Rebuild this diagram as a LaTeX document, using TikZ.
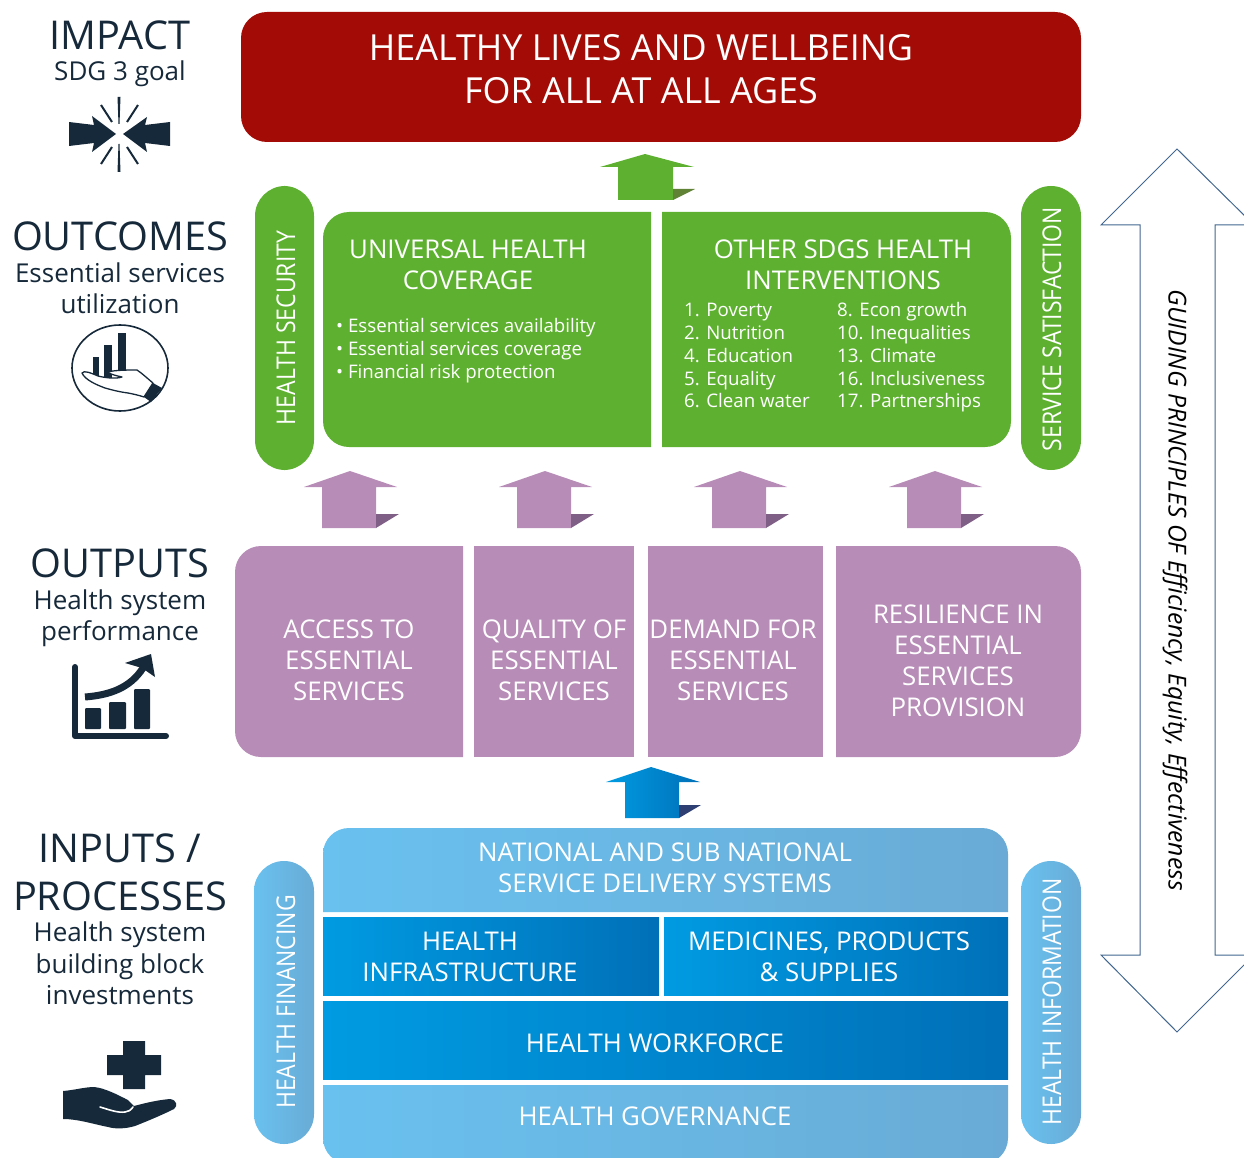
\documentclass[tikz,border=0pt]{standalone}
\usepackage{fontspec}
\setmainfont{Open Sans}
\definecolor{navy}{HTML}{16293A}
\definecolor{redbox}{HTML}{A30C06}
\definecolor{greenbox}{HTML}{5EB130}
\definecolor{greenshade}{HTML}{5F8235}
\definecolor{purplebox}{HTML}{B78CB7}
\definecolor{purpleshade}{HTML}{7F5F85}
\definecolor{lightblueA}{HTML}{69C1EF}
\definecolor{lightblueB}{HTML}{69ABD6}
\definecolor{deepblueA}{HTML}{009BE2}
\definecolor{deepblueB}{HTML}{0070B8}
\definecolor{blueshade}{HTML}{2E3F73}
\definecolor{arrowline}{HTML}{41668F}
\tikzset{
 heading/.style={text=navy,font=\fontsize{39.7}{39.7}\selectfont,inner sep=0pt},
 subheading/.style={text=navy,font=\fontsize{26}{31.5}\selectfont,align=center,inner sep=0pt},
 boxlabel/.style={text=white,font=\fontsize{25.8}{31}\selectfont,align=center,inner sep=0pt},
 sidelabel/.style={boxlabel,rotate=90,xscale=.89},
 listlabel/.style={text=white,font=\fontsize{18.7}{18.7}\selectfont,anchor=base west,inner sep=0pt},
 lightblue/.style={left color=lightblueA,right color=lightblueB},
 deepblue/.style={left color=deepblueA,right color=deepblueB},
}
\begin{document}
\begin{tikzpicture}[x=1pt,y=-1pt]
\useasboundingbox (0,0) rectangle (1244,1158);
\clip (0,0) rectangle (1244,1158);
% big arrow on the right
\draw[arrowline,fill=white,line width=1pt] (1177,149) -- (1254,225) -- (1215,225) -- (1215,955) -- (1254,955) -- (1177,1032) -- (1101,955) -- (1140,955) -- (1140,225) -- (1101,225) -- cycle;
\node[rotate=-90,text=black,inner sep=0pt,font=\fontsize{24.7}{24.7}\selectfont\itshape] (principles) at (1175,590) {GUIDING PRINCIPLES OF Efficiency, Equity, Effectiveness};
% impact
\fill[redbox,rounded corners=26pt] (241,12) rectangle (1081,142);
\node[boxlabel,font=\fontsize{35.9}{43}\selectfont] (impactbox) at (641,69) {HEALTHY LIVES AND WELLBEING\\FOR ALL AT ALL AGES};
\fill[greenbox] (645,154) -- (694,167) -- (673,167) -- (673,200) -- (618,200) -- (618,167) -- (600,167) -- cycle;
\fill[greenshade] (673,189) -- (695,189) -- (673,200) -- cycle;
% outcomes
\fill[greenbox,rounded corners=30pt] (255,186) rectangle (314,470);
\fill[greenbox,rounded corners=30pt] (1021,186) rectangle (1081,470);
\fill[greenbox] (651,212) [rounded corners=26pt] -- (323,212) -- (323,447) [sharp corners] -- (651,447) -- cycle;
\fill[greenbox] (662,212) [rounded corners=26pt] -- (1011,212) -- (1011,447) [sharp corners] -- (662,447) -- cycle;
\node[sidelabel] (security) at (286,328) {HEALTH SECURITY};
\node[sidelabel] (satisfaction) at (1052,329) {SERVICE SATISFACTION};
\node[boxlabel] (uhc) at (468,265) {UNIVERSAL HEALTH\\COVERAGE};
\node[boxlabel] (sdgs) at (843,265) {OTHER SDGS HEALTH\\INTERVENTIONS};
\node[listlabel] (uhca) at (336,332.5) {\textbullet\ Essential services availability};
\node[listlabel] (uhcb) at (336,355.5) {\textbullet\ Essential services coverage};
\node[listlabel] (uhcc) at (336,378.5) {\textbullet\ Financial risk protection};
\node[listlabel] (sdga) at (684,316.5) {1. Poverty};
\node[listlabel] (sdgb) at (684,339.5) {2. Nutrition};
\node[listlabel] (sdgc) at (684,362.5) {4. Education};
\node[listlabel] (sdgd) at (684,385.5) {5. Equality};
\node[listlabel] (sdge) at (684,407.5) {6. Clean water};
\node[listlabel] (sdgf) at (837,316.5) {8. Econ growth};
\node[listlabel] (sdgg) at (837,339.5) {10. Inequalities};
\node[listlabel] (sdgh) at (837,362.5) {13. Climate};
\node[listlabel] (sdgi) at (837,385.5) {16. Inclusiveness};
\node[listlabel] (sdgj) at (837,407.5) {17. Partnerships};
% outputs
\foreach\xpos in {350,545,740,935}{
 \fill[purplebox] (\xpos,471) -- (\xpos+47,487) -- (\xpos+26,487) -- (\xpos+26,528) -- (\xpos-28,528) -- (\xpos-28,487) -- (\xpos-46,487) -- cycle;
 \fill[purpleshade] (\xpos+26,514) -- (\xpos+49,514) -- (\xpos+26,528) -- cycle;
}
\fill[purplebox] (463,546) [rounded corners=26pt] -- (235,546) -- (235,757) [sharp corners] -- (463,757) -- cycle;
\fill[purplebox] (474,546) rectangle (634,757);
\fill[purplebox] (648,546) rectangle (823,757);
\fill[purplebox] (836,546) [rounded corners=26pt] -- (1081,546) -- (1081,757) [sharp corners] -- (836,757) -- cycle;
\node[boxlabel] (access) at (349,660.5) {ACCESS TO\\ESSENTIAL\\SERVICES};
\node[boxlabel] (quality) at (554,660.5) {QUALITY OF\\ESSENTIAL\\SERVICES};
\node[boxlabel] (demand) at (733,660.5) {DEMAND FOR\\ESSENTIAL\\SERVICES};
\node[boxlabel] (resilience) at (958,661) {RESILIENCE IN\\ESSENTIAL\\SERVICES\\PROVISION};
% inputs
\shade[deepblue] (625,818) -- (625,782) -- (606,782) -- (651,767) -- (700,782) -- (679,782) -- (679,818) -- cycle;
\fill[blueshade] (679,805) -- (701,805) -- (679,818) -- cycle;
\shade[lightblue,rounded corners=30pt] (254,861) rectangle (314,1144);
\shade[lightblue,rounded corners=30pt] (1021,861) rectangle (1081,1144);
\shade[lightblue] (323,912) [rounded corners=26pt] -- (323,828) -- (1008,828) [sharp corners] -- (1008,912) -- cycle;
\shade[deepblue] (323,917) rectangle (659,995);
\shade[deepblue] (664,917) rectangle (1008,995);
\shade[deepblue] (323,1001) rectangle (1008,1079);
\shade[lightblue] (323,1085) [rounded corners=26pt] -- (323,1164) -- (1008,1164) [sharp corners] -- (1008,1085) -- cycle;
\node[sidelabel] (financing) at (286,1002) {HEALTH FINANCING};
\node[sidelabel] (information) at (1052,1002) {HEALTH INFORMATION};
\node[boxlabel] (delivery) at (665,868) {NATIONAL AND SUB NATIONAL\\SERVICE DELIVERY SYSTEMS};
\node[boxlabel] (infrastructure) at (470,957) {HEALTH\\INFRASTRUCTURE};
\node[boxlabel] (medicines) at (829,957) {MEDICINES, PRODUCTS\\\& SUPPLIES};
\node[boxlabel] (workforce) at (655,1043) {HEALTH WORKFORCE};
\node[boxlabel] (governance) at (655,1116) {HEALTH GOVERNANCE};
% left column
\node[heading] (impact) at (120,35.5) {IMPACT};
\node[subheading] (impactsub) at (120,74) {SDG 3 goal};
\node[heading] (outcomes) at (120,236) {OUTCOMES};
\node[subheading] (outcomessub) at (120,288) {Essential services\\utilization};
\node[heading] (outputs) at (120,563.5) {OUTPUTS};
\node[subheading] (outputssub) at (120,618) {Health system\\performance};
\node[heading,align=center,font=\fontsize{39.7}{48}\selectfont] (inputs) at (120,872.5) {INPUTS /\\PROCESSES};
\node[subheading] (inputssub) at (120,963.5) {Health system\\building block\\investments};
% impact icon
\fill[navy] (116,134) -- (92,116) -- (94,125) -- (69,122) -- (69,146) -- (94,143) -- (92,152) -- cycle;
\fill[navy] (123,134) -- (147,117) -- (145,125) -- (170,122) -- (170,146) -- (145,143) -- (147,152) -- cycle;
\fill[navy] (117.5,97) -- (120.5,97) -- (119.5,124) -- (118.5,124) -- cycle;
\fill[navy] (117.5,172) -- (120.5,172) -- (119.5,144) -- (118.5,144) -- cycle;
\foreach\xa/\ya/\xb/\yb in {101/105/112/122,138/105/127/122,101/164/112/147,138/164/127/147}{
 \draw[navy,line width=2pt] (\xa,\ya) -- (\xb,\yb);
}
% outcomes icon
\draw[navy,line width=1.6pt] (120,368) ellipse (48 and 43);
\fill[navy] (92.7,357) rectangle (99.3,378);
\fill[navy] (104.3,345) rectangle (111.7,378);
\fill[navy] (118.3,333) rectangle (126,374);
\draw[navy,fill=white,line width=1.3pt,line join=round] (82,373) .. controls (84,370) and (91,373) .. (98,376) .. controls (106,378) and (116,379) .. (122,377) .. controls (118,376) and (112,375) .. (107,372) .. controls (116,370) and (128,370) .. (137,370) .. controls (143,374) and (148,379) .. (153,383) -- (144,397) .. controls (138,395) and (133,394) .. (128,393) .. controls (120,392) and (112,390) .. (105,388) .. controls (97,385) and (85,380) .. (82,373) -- cycle;
\fill[navy] (153,383) -- (162,388) -- (151,402) -- (144,397) -- cycle;
% outputs icon
\draw[navy,line width=6pt,line cap=round,line join=round] (75,667) -- (75,736) -- (166,736);
\foreach\xa/\xb/\ya in {85/101/708,109/126/702,134/150/689}{
 \fill[navy,rounded corners=1pt] (\xa,\ya) rectangle (\xb,729);
}
\draw[navy,line width=7pt] (85,697) .. controls (110,695) and (130,688) .. (143,668);
\fill[navy] (151,654) -- (155,677) -- (142,668) -- (125,663) -- cycle;
% inputs icon
\fill[navy] (123,1041) -- (145,1041) -- (145,1055) -- (161,1055) -- (161,1075) -- (145,1075) -- (145,1089) -- (123,1089) -- (123,1075) -- (107,1075) -- (107,1055) -- (123,1055) -- cycle;
\fill[navy] (63,1091) .. controls (75,1090) and (85,1087) .. (94,1087) .. controls (105,1088) and (118,1095) .. (128,1100) -- (134,1106) .. controls (145,1103) and (158,1100) .. (170,1099) .. controls (177,1100) and (178,1106) .. (174,1109) .. controls (160,1116) and (145,1122) .. (135,1126) .. controls (125,1129) and (115,1129) .. (108,1127) .. controls (93,1124) and (78,1119) .. (63,1119) -- cycle;
\draw[white,line width=1.6pt,line cap=round] (100,1107) .. controls (110,1110) and (118,1113) .. (125,1112) .. controls (128,1112) and (131,1110) .. (133,1107);
\end{tikzpicture}
\end{document}
